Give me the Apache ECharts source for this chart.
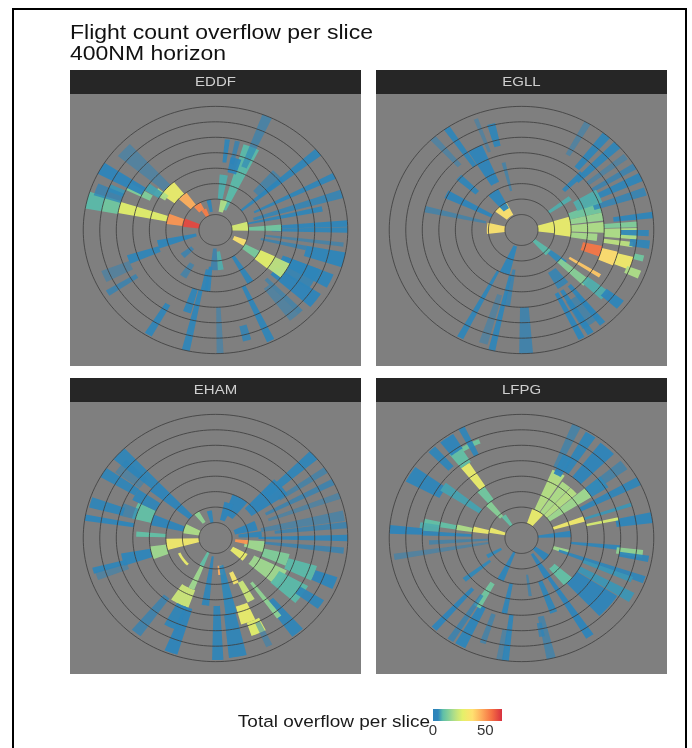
<!DOCTYPE html>
<html>
<head>
<meta charset="utf-8">
<title>Flight count overflow per slice</title>
<script src="https://cdn.jsdelivr.net/npm/echarts@6/dist/echarts.min.js"></script>
<style>
html, body { margin: 0; padding: 0; background: #fff; }
#main { width: 692px; height: 748px; filter: blur(0.5px); }
</style>
</head>
<body>
<div id="main"></div>
<script>
var panelNames = ['EDDF', 'EGLL', 'EHAM', 'LFPG'];
var ringTicks = [50, 100, 150, 200, 250, 300, 350, 400];
var legendTicks = [0, 50];
var overflowMax = 66;
var spectral = ['#2B83BA', '#2F86BA', '#5FBFA8', '#80CE9A', '#A6DB8C', '#C8E67A', '#E4F06A', '#F4E86C',
    '#FFE070', '#FEC565', '#FDA85A', '#F98A4E', '#F46D43', '#E64E41', '#D7303F'];

// each slice: bearing, width (deg), range from, range to (NM), overflow
var eddfSlices = [
    [284, 16, 50, 100, 62], [284, 13, 100, 150, 50], [284, 7, 150, 300, 28], [284, 8, 300, 350, 12], [284, 8, 350, 400, 9],
    [332, 12, 50, 75, 54], [326, 14, 75, 100, 52], [318, 12, 100, 150, 46], [313, 16, 150, 200, 30],
    [305, 6, 180, 220, 20], [298, 5, 220, 300, 14], [293, 4, 300, 350, 6], [290, 6, 300, 385, 2],
    [300, 6, 250, 400, 3.5], [304, 6, 200, 250, 7], [313, 8, 200, 380, 1],
    [51, 4, 100, 400, 3], [47, 10, 170, 260, 1.5], [64, 3, 130, 400, 3], [73, 4, 120, 400, 2.5],
    [78, 3, 80, 330, 3], [87, 3, 200, 400, 4], [90, 2.5, 170, 400, 3], [88, 6, 100, 200, 12], [83, 17, 50, 100, 26],
    [104, 7, 280, 400, 4], [102, 3, 140, 280, 2], [97, 2, 150, 390, 1.5],
    [115.5, 7, 220, 385, 4], [127, 8, 220, 380, 3.5], [118, 12, 230, 340, 2.5], [136, 3, 220, 370, 1.5],
    [122, 12, 200, 250, 22], [122, 13, 150, 200, 28], [122, 10, 100, 150, 13], [115, 12, 60, 100, 36],
    [22, 10, 70, 290, 9], [15, 12, 60, 100, 20], [8, 8, 100, 180, 8],
    [15, 8, 190, 240, 4], [7, 3, 220, 295, 3], [13, 3, 220, 295, 2], [23, 4.5, 220, 400, 1.5],
    [348, 8, 60, 100, 3], [173, 8, 70, 130, 8],
    [182, 10, 60, 130, 2], [190, 6, 130, 200, 3], [198, 5, 200, 280, 3], [211, 3.5, 280, 395, 3],
    [187, 5, 120, 200, 3], [193, 3.5, 200, 400, 3], [230, 8, 90, 130, 2], [213, 7, 130, 180, 1.5],
    [255, 9, 60, 180, 4], [250, 6, 180, 280, 3], [238, 3, 280, 385, 2], [246, 6, 280, 370, 0.8],
    [148, 6, 100, 200, 3], [155, 3.5, 200, 395, 3], [178, 3, 250, 400, 1], [165, 4, 320, 370, 2.5], [140, 5, 240, 370, 1]
];

var egllSlices = [
    [85, 22, 50, 100, 30], [86, 25, 100, 150, 30],
    [73, 8, 150, 250, 12], [80, 6, 150, 250, 17], [88, 8, 150, 250, 20], [96, 6, 150, 230, 19],
    [87, 3, 250, 350, 14], [92, 6, 250, 350, 20], [98, 3, 250, 340, 22],
    [106, 8, 190, 250, 55], [108, 9, 250, 300, 38], [108, 7, 300, 350, 32], [112, 4, 340, 385, 20], [104, 3, 350, 380, 12],
    [83, 3, 280, 400, 4], [91.5, 3, 300, 385, 3], [97, 4, 330, 390, 3],
    [64.6, 4, 230, 400, 3], [71.6, 4, 230, 395, 2.5], [59, 3, 250, 400, 2], [53, 3, 250, 395, 1], [46.5, 4, 230, 400, 3],
    [40, 4, 260, 400, 3], [55, 5, 100, 180, 8], [45, 4, 180, 260, 3], [30, 3, 280, 400, 1], [65, 10, 180, 260, 8],
    [132, 12, 50, 110, 9], [130, 8, 110, 170, 5], [131, 6, 150, 260, 15], [130, 6, 250, 330, 8], [129, 5, 320, 385, 4],
    [145, 10, 160, 220, 2.5], [122, 2.5, 170, 280, 42],
    [152.6, 3, 230, 395, 4], [148, 3, 230, 395, 3], [141, 3, 230, 390, 3], [145, 10, 270, 370, 1.5],
    [200, 12, 55, 150, 4], [208, 3, 150, 395, 3], [193, 3, 150, 400, 3], [190, 4, 130, 250, 2], [178, 6, 250, 400, 2], [197.5, 4, 220, 385, 0.8],
    [273, 20, 50, 105, 36], [320, 26, 55, 100, 36],
    [283, 4, 110, 300, 1.5], [297, 6, 100, 255, 3.5], [312, 5, 180, 255, 3], [325, 14, 80, 150, 4],
    [332, 9, 170, 300, 3.5], [325.6, 3, 250, 400, 3], [318, 3, 280, 400, 1], [345, 4, 280, 355, 3], [339, 2, 270, 385, 0.8], [346, 3, 130, 225, 1.5]
];

var ehamSlices = [
    [262, 14, 50, 150, 32], [256, 12, 150, 200, 18], [256, 8, 200, 290, 4], [254, 3, 280, 385, 3], [251, 4, 280, 380, 1],
    [288, 18, 50, 100, 20], [273, 4, 150, 240, 10], [325, 10, 60, 100, 16], [348, 10, 50, 90, 3],
    [290, 12, 200, 260, 10], [287, 10, 100, 200, 3.5], [279.5, 3, 250, 400, 4], [287, 5, 290, 395, 3], [288, 8, 250, 300, 1.5],
    [302, 5, 280, 400, 3], [300, 8, 200, 280, 3], [313, 7, 250, 400, 3], [312, 9, 100, 250, 3.5], [309, 8, 280, 370, 1],
    [48, 5, 200, 400, 3], [50, 14, 130, 260, 3.5], [63, 3, 170, 400, 2], [56.6, 3, 230, 400, 1.5], [70, 3, 170, 400, 1],
    [30, 20, 80, 150, 3.5], [20, 14, 60, 120, 3.5], [79.5, 5, 140, 395, 1.2], [90, 3, 130, 400, 4], [96, 3, 130, 390, 2],
    [84, 3, 180, 400, 2], [72, 14, 60, 130, 3.5], [85, 8, 70, 140, 3],
    [101, 14, 90, 150, 18], [108, 10, 150, 230, 14], [111, 9, 230, 320, 9], [112, 6, 320, 390, 4], [98, 8, 60, 100, 50],
    [125, 14, 60, 110, 30], [123, 14, 130, 240, 18], [125, 12, 220, 320, 9], [124, 5, 300, 385, 3], [141, 6, 260, 395, 3],
    [172, 8, 90, 120, 46], [157, 6, 120, 160, 34], [152, 6, 160, 230, 24], [160, 9, 230, 290, 30], [157, 8, 290, 335, 28],
    [207, 14, 180, 240, 24], [204, 6, 100, 180, 18], [205, 8, 50, 100, 10],
    [218, 5, 240, 390, 2], [200, 6, 240, 395, 3.5], [205, 8, 240, 320, 3],
    [179, 5, 220, 395, 3], [188, 6, 60, 220, 3], [170, 8, 250, 390, 3], [169, 8, 90, 250, 5],
    [143, 3, 180, 320, 16], [155, 3, 300, 385, 1], [235, 22, 116, 124, 30]
];

var lfpgSlices = [
    [285, 10, 50, 100, 31], [281, 7, 100, 150, 31], [280, 5, 150, 200, 20], [280, 4, 200, 300, 10], [277, 5, 250, 310, 8],
    [274, 4, 300, 400, 3.5], [273, 3, 150, 300, 3], [261, 3, 100, 390, 1], [267, 3, 100, 280, 1.5],
    [323, 10, 50, 90, 10], [318, 8, 90, 150, 15], [322, 8, 150, 200, 12], [324, 6, 200, 290, 30], [324.6, 7, 290, 350, 10], [333, 10, 330, 345, 12],
    [325, 7, 340, 395, 3.5], [333, 3, 300, 400, 3], [316.6, 4, 310, 395, 3], [301.6, 8, 280, 395, 4], [305, 6, 150, 290, 7],
    [30, 22, 50, 100, 30], [28, 10, 100, 240, 21], [38, 8, 100, 220, 20], [46, 7, 100, 220, 21], [54, 8, 100, 250, 18],
    [24.6, 4, 250, 400, 1.5], [32, 5, 250, 395, 3], [41.8, 8, 250, 390, 3.5], [52.7, 5, 250, 390, 1.5], [62.6, 4, 200, 400, 3],
    [28, 6, 230, 300, 4], [54, 8, 250, 310, 5],
    [80.5, 5, 290, 400, 4], [72, 5, 100, 200, 32], [78, 2, 200, 300, 26], [85, 8, 50, 150, 4], [72, 2, 200, 350, 6],
    [130, 14, 50, 100, 3.5], [108, 6, 100, 150, 18], [96, 3, 150, 300, 3], [98, 4, 290, 370, 16], [100, 3, 300, 390, 3],
    [110, 3.5, 120, 395, 3], [135, 10, 130, 200, 10], [130, 14, 200, 345, 3.5], [120, 5, 200, 385, 6], [112, 3, 200, 360, 6],
    [148, 8, 60, 150, 3.5], [158, 5, 150, 260, 3], [167, 4, 260, 400, 1.5], [147, 4, 150, 380, 3.5], [169, 3, 280, 325, 2], [172, 3, 120, 190, 1.5],
    [205, 8, 50, 150, 4], [192, 4, 150, 250, 3], [187, 3, 250, 400, 3],
    [208, 5, 250, 395, 4], [211, 5, 170, 260, 12], [240, 6, 70, 120, 5], [232, 4, 120, 220, 5], [222, 3, 220, 395, 3.5],
    [213, 3, 220, 395, 2], [199, 3, 260, 360, 1.5], [189.5, 3, 300, 400, 1]
];

var allSlices = [eddfSlices, egllSlices, ehamSlices, lfpgSlices];

var panelRects = [
    { left: 70, top: 94 }, { left: 376, top: 94 },
    { left: 70, top: 402 }, { left: 376, top: 402 }
];
var panelW = 291, panelH = 272;
var stripH = 24;

function toXY(bearing, range) {
    var a = bearing * Math.PI / 180;
    return [range * Math.sin(a), range * Math.cos(a)];
}

function renderSlice(params, api) {
    var bearing = api.value(0), width = api.value(1), r0 = api.value(2), r1 = api.value(3), v = api.value(4);
    var pts = [], n = Math.max(2, Math.ceil(width));
    for (var i = 0; i <= n; i++) {
        pts.push(api.coord(toXY(bearing - width / 2 + width * i / n, r1)));
    }
    for (var j = n; j >= 0; j--) {
        pts.push(api.coord(toXY(bearing - width / 2 + width * j / n, r0)));
    }
    return {
        type: 'polygon',
        shape: { points: pts },
        style: {
            fill: api.visual('color'),
            opacity: Math.min(0.95, 0.32 + 0.2 * v)
        }
    };
}

function renderRing(params, api) {
    var r = api.value(0);
    var pts = [];
    for (var i = 0; i <= 180; i++) {
        pts.push(api.coord(toXY(i * 2, r)));
    }
    return {
        type: 'polyline',
        shape: { points: pts },
        style: { fill: 'none', stroke: '#3f3f3f', lineWidth: 1, opacity: 0.85 }
    };
}

function renderLegendBar(params, api) {
    var a = api.coord([api.value(0), 0]);
    var b = api.coord([api.value(1), 1]);
    return {
        type: 'rect',
        shape: { x: a[0], y: b[1], width: b[0] - a[0], height: a[1] - b[1] },
        style: {
            fill: new echarts.graphic.LinearGradient(0, 0, 1, 0, spectral.map(function(c, i) {
                return { offset: i / (spectral.length - 1), color: c };
            }))
        }
    };
}

var grids = [], xAxes = [], yAxes = [], series = [], graphics = [];

panelNames.forEach(function(name, k) {
    var rect = panelRects[k];
    grids.push({
        left: rect.left, top: rect.top, width: panelW, height: panelH,
        show: true, backgroundColor: '#7f7f7f', borderWidth: 0
    });
    xAxes.push({ type: 'value', gridIndex: k, min: -440, max: 440, show: false });
    yAxes.push({ type: 'value', gridIndex: k, min: -440, max: 440, show: false });
    series.push({
        type: 'custom', name: name, xAxisIndex: k, yAxisIndex: k,
        coordinateSystem: 'cartesian2d', renderItem: renderSlice,
        data: allSlices[k], clip: false, silent: true, animation: false, z: 2
    });
    series.push({
        type: 'custom', name: name + ' rings', xAxisIndex: k, yAxisIndex: k,
        coordinateSystem: 'cartesian2d', renderItem: renderRing,
        data: ringTicks.map(function(r) { return [r, 0]; }),
        clip: false, silent: true, animation: false, z: 3
    });
    graphics.push({
        type: 'rect',
        shape: { x: rect.left, y: rect.top - stripH, width: panelW, height: stripH },
        style: { fill: '#262626' }
    });
    graphics.push({
        type: 'text',
        x: rect.left + panelW / 2, y: rect.top - stripH / 2, scaleY: 0.88,
        style: {
            text: name, fill: '#cfcfcf', align: 'center', verticalAlign: 'middle',
            font: '15px "Liberation Sans"'
        }
    });
});

// colour bar legend, has its own little axis
grids.push({ left: 433, top: 709, width: 69, height: 12, borderWidth: 0 });
xAxes.push({
    type: 'value', gridIndex: 4, min: 0, max: overflowMax, interval: 50,
    axisLine: { show: false }, axisTick: { show: false }, splitLine: { show: false },
    axisLabel: {
        show: true, margin: 2, color: '#333', fontSize: 15, fontFamily: 'Liberation Sans',
        formatter: function(v) { return legendTicks.indexOf(v) >= 0 ? String(v) : ''; }
    }
});
yAxes.push({ type: 'value', gridIndex: 4, min: 0, max: 1, show: false });
series.push({
    type: 'custom', name: 'legend', xAxisIndex: 4, yAxisIndex: 4,
    coordinateSystem: 'cartesian2d', renderItem: renderLegendBar,
    data: [[0, overflowMax]], silent: true, animation: false
});

graphics.push({
    type: 'rect', z: 10,
    shape: { x: 13, y: 9, width: 673, height: 760 },
    style: { fill: 'none', stroke: '#000', lineWidth: 2 }
});
graphics.push({
    type: 'text', z: 10, x: 430, y: 722, scaleY: 0.9,
    style: {
        text: 'Total overflow per slice', fill: '#1a1a1a', align: 'right', verticalAlign: 'middle',
        font: '19px "Liberation Sans"'
    }
});
graphics.push({
    type: 'text', z: 10, x: 70, y: 23, scaleY: 0.9,
    style: {
        text: 'Flight count overflow per slice\n400NM horizon', fill: '#111', align: 'left', verticalAlign: 'top',
        font: '23px "Liberation Sans"', lineHeight: 23
    }
});

var dom = document.getElementById('main');
var myChart = echarts.init(dom, null, { renderer: 'canvas' });
var option = {
    backgroundColor: '#fff',
    animation: false,
    visualMap: {
        show: false, type: 'continuous', min: 0, max: overflowMax, dimension: 4,
        seriesIndex: [0, 2, 4, 6],
        inRange: { color: spectral }
    },
    grid: grids,
    xAxis: xAxes,
    yAxis: yAxes,
    series: series,
    graphic: graphics
};
myChart.setOption(option, true);
</script>
</body>
</html>
